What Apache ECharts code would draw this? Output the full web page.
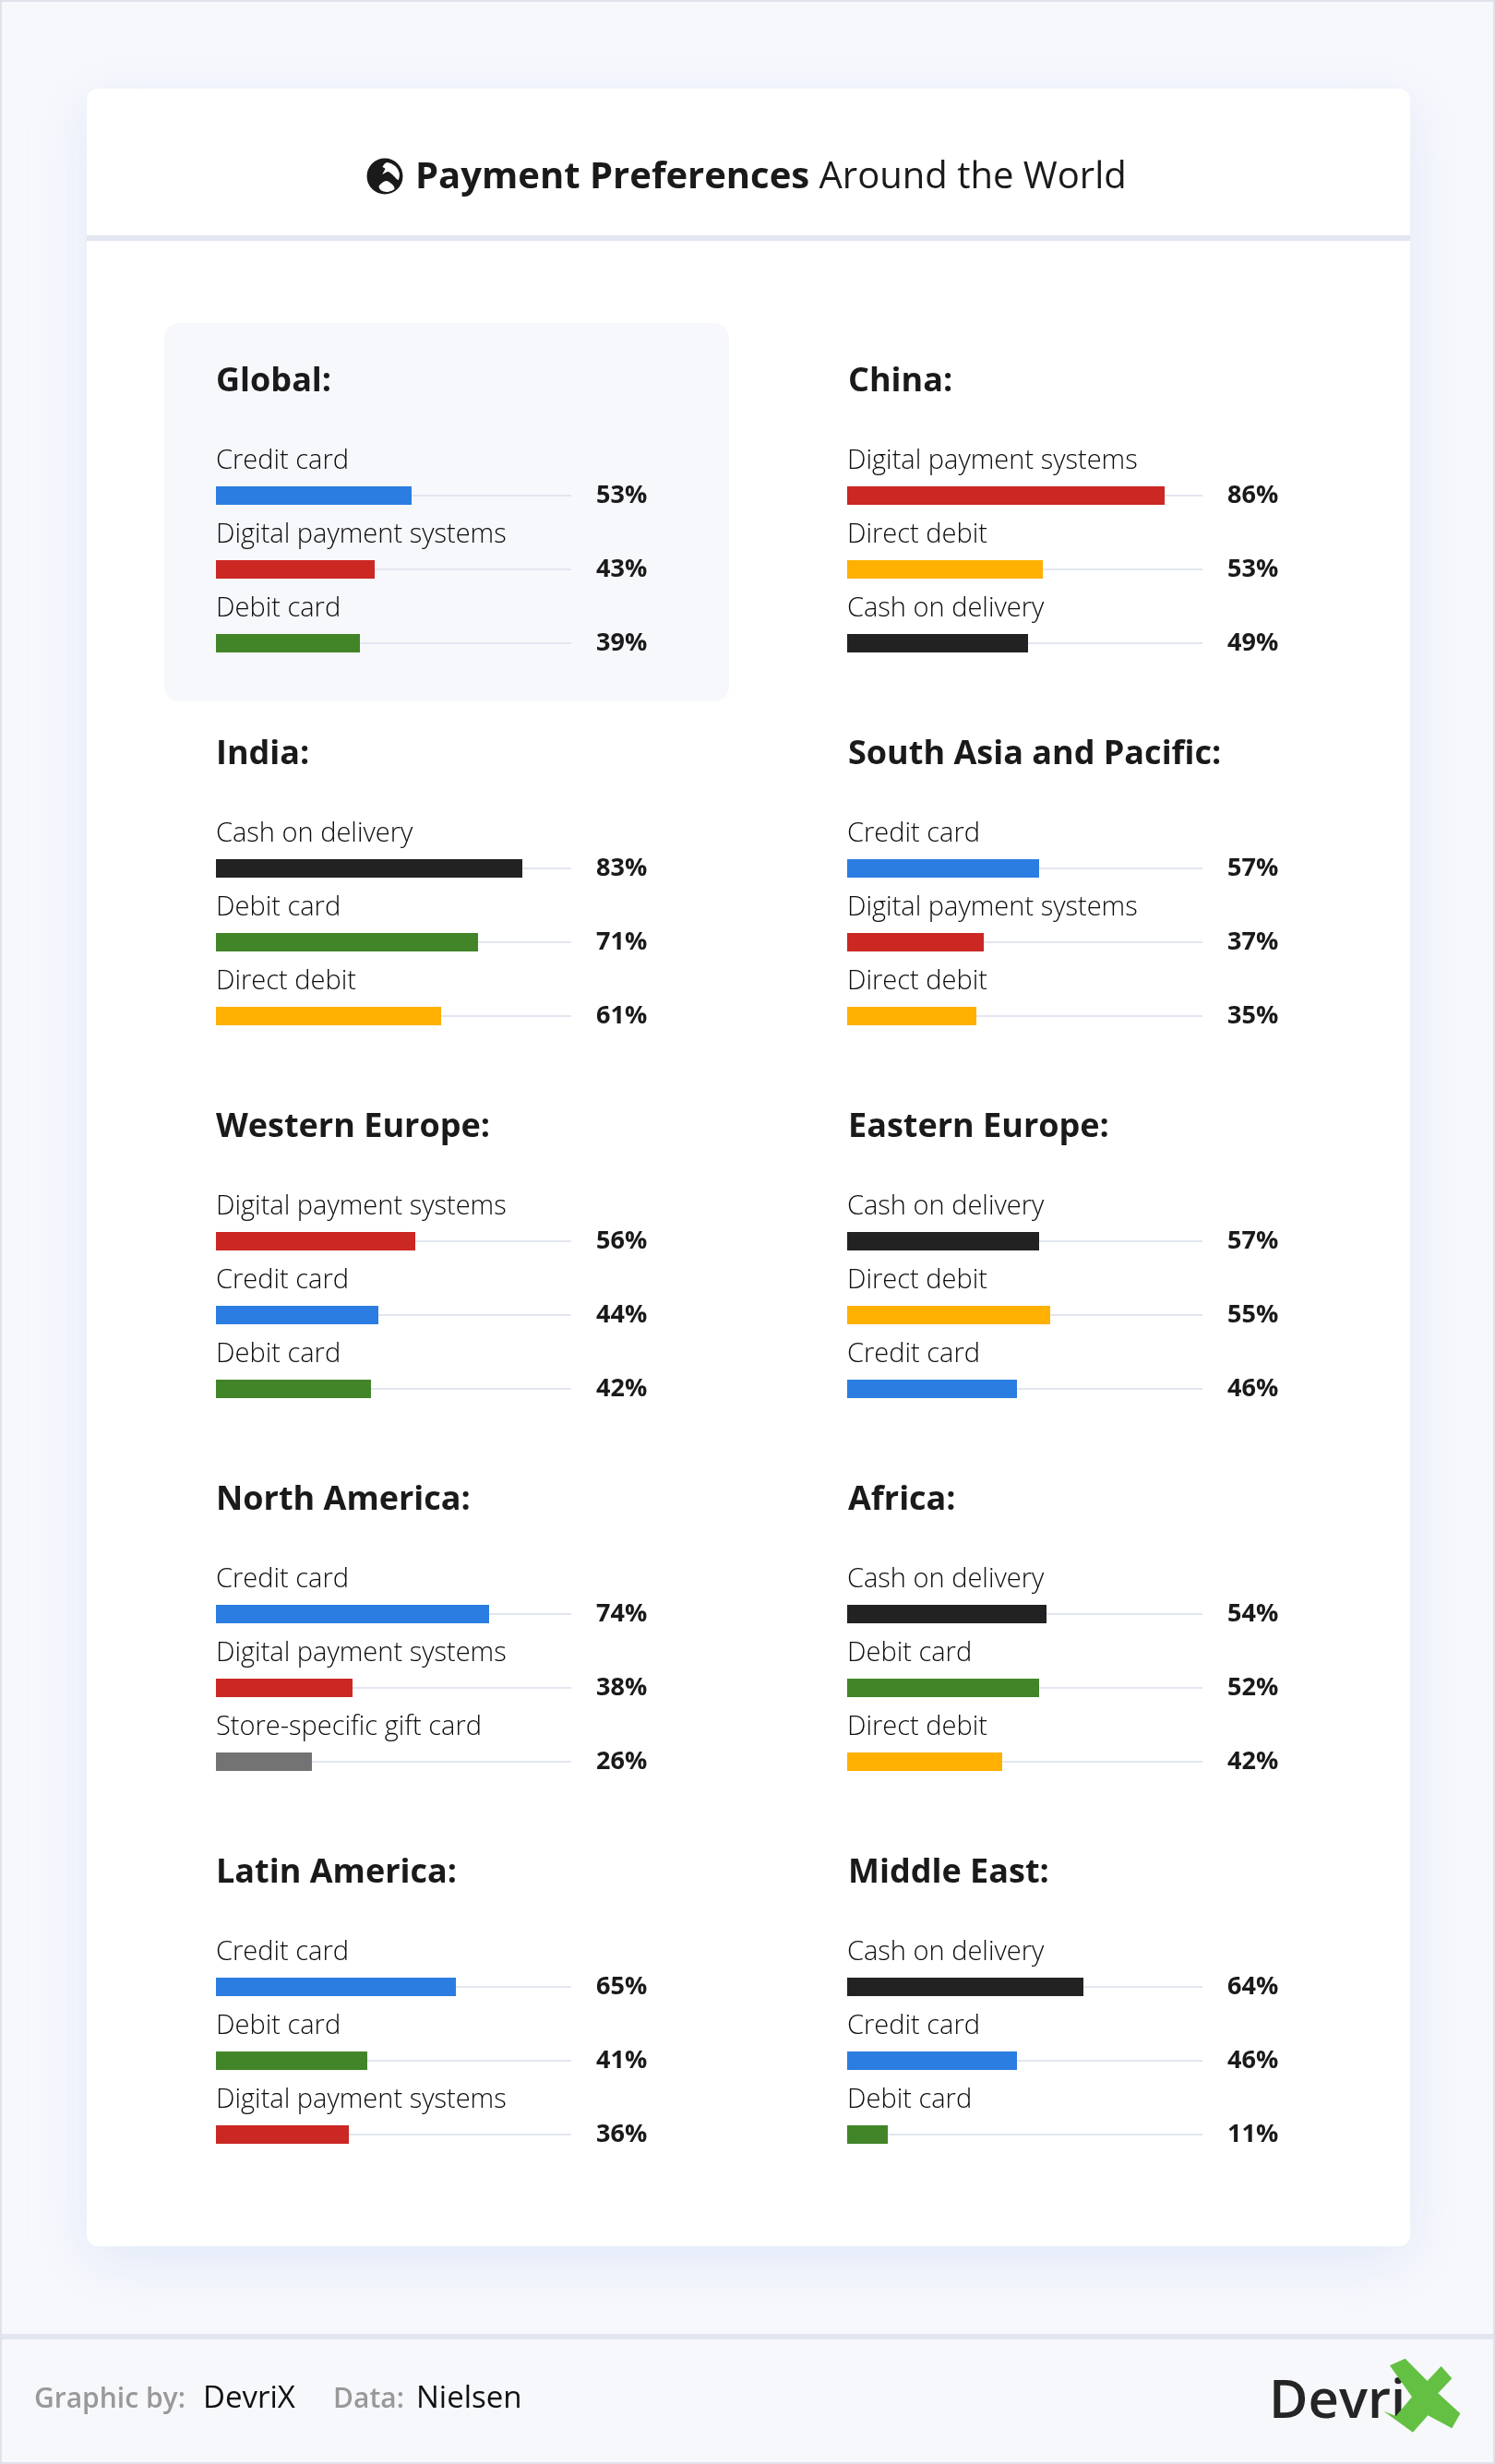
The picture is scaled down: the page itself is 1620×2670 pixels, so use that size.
<!DOCTYPE html>
<html>
<head>
<meta charset="utf-8">
<title>Payment Preferences Around the World</title>
<script src="https://cdn.jsdelivr.net/npm/echarts@6/dist/echarts.min.js"></script>
<style>
html,body{margin:0;padding:0;background:#f7f8fc;}
#main{width:1620px;height:2670px;}
</style>
</head>
<body>
<div id="main"></div>
<script>
const regions = ['Global:','China:','India:','South Asia and Pacific:','Western Europe:','Eastern Europe:','North America:','Africa:','Latin America:','Middle East:'];

const methods = [
    ['Credit card','Digital payment systems','Debit card'],
    ['Digital payment systems','Direct debit','Cash on delivery'],
    ['Cash on delivery','Debit card','Direct debit'],
    ['Credit card','Digital payment systems','Direct debit'],
    ['Digital payment systems','Credit card','Debit card'],
    ['Cash on delivery','Direct debit','Credit card'],
    ['Credit card','Digital payment systems','Store-specific gift card'],
    ['Cash on delivery','Debit card','Direct debit'],
    ['Credit card','Debit card','Digital payment systems'],
    ['Cash on delivery','Credit card','Debit card']
];

// printed percentages
const printed = [
    [53,43,39],[86,53,49],
    [83,71,61],[57,37,35],
    [56,44,42],[57,55,46],
    [74,38,26],[54,52,42],
    [65,41,36],[64,46,11]
];

// bar lengths as drawn, a few of them differ from the printed number
const drawn = [
    [53,43,39],[86,53,49],
    [83,71,61],[52,37,35],
    [54,44,42],[52,55,46],
    [74,37,26],[54,52,42],
    [65,41,36],[64,46,11]
];

const methodColors = {
    'Credit card':'#2b7de1',
    'Digital payment systems':'#cb2723',
    'Debit card':'#418528',
    'Direct debit':'#ffb000',
    'Cash on delivery':'#222222',
    'Store-specific gift card':'#737373'
};

const font = '"Open Sans"';
const dark = '#1a1a1a';
const lineColor = '#e2e6f0';
const trackMax = 96.25;   // 4px for each percent, track is 385px

let grid = [], xAxis = [], yAxis = [], series = [], title = [];

regions.forEach((name,i)=>{
    let col = i % 2;
    let row = Math.floor(i / 2);
    let left = col === 0 ? 234 : 918;
    let top = 497 + row * 404;

    grid.push({left:left,top:top,width:385,height:240});
    xAxis.push({gridIndex:i,type:'value',min:0,max:trackMax,show:false});
    yAxis.push({
        gridIndex:i,type:'category',inverse:true,data:methods[i],show:false
    });
    yAxis.push({
        gridIndex:i,type:'category',inverse:true,position:'right',
        data:printed[i].map(v=>v+'%'),
        axisLine:{show:false},axisTick:{show:false},
        axisLabel:{margin:27,padding:[6,0,0,0],color:dark,fontFamily:font,fontSize:27,fontWeight:700}
    });
    series.push({
        name:name,
        type:'bar',
        xAxisIndex:i,
        yAxisIndex:i*2,
        barWidth:20,
        z:3,
        silent:true,
        data:drawn[i].map((v,k)=>({value:v,itemStyle:{color:methodColors[methods[i][k]]}})),
        label:{
            show:true,
            position:[0,-42],
            formatter:'{b}',
            color:'#0d0d0d',
            fontFamily:font,
            fontSize:29,
            fontWeight:300
        },
        markLine:{
            silent:true,
            symbol:'none',
            z:1,
            label:{show:false},
            lineStyle:{color:lineColor,width:2,type:'solid'},
            data:methods[i].map(m=>[{xAxis:0,yAxis:m},{xAxis:trackMax,yAxis:m}])
        }
    });
    title.push({
        text:name,
        left:col === 0 ? 234 : 919,
        top:top - 101,
        padding:0,
        textStyle:{color:dark,fontFamily:font,fontSize:36,fontWeight:700}
    });
});

title.push({
    text:'{b|Payment Preferences}{l| Around the World}',
    left:450,
    top:173,
    padding:0,
    textStyle:{
        rich:{
            b:{color:dark,fontFamily:font,fontSize:40,fontWeight:700},
            l:{color:dark,fontFamily:font,fontSize:40,fontWeight:400}
        }
    }
});

// globe icon and logo mark
const globeAt = pts => pts.map(p=>[380+p[0]/3,150+p[1]/3]);
const logoAt = pts => pts.map(p=>[1340+p[0]/3,2540+p[1]/3]);

const graphic = [
    {type:'rect',z:-10,shape:{x:1,y:1,width:1618,height:2668},style:{fill:'#f7f8fc',stroke:'#dfe2ea',lineWidth:2}},
    {type:'rect',z:-9,shape:{x:94,y:96,width:1434,height:2338,r:12},
        style:{fill:'#fff',shadowBlur:60,shadowOffsetY:16,shadowColor:'rgba(190,210,245,0.4)'}},
    {type:'rect',z:-8,shape:{x:94,y:255,width:1434,height:6},style:{fill:lineColor}},
    {type:'rect',z:-8,shape:{x:178,y:350,width:612,height:410,r:16},style:{fill:'#f7f8fc'}},
    {type:'rect',z:-8,shape:{x:2,y:2529,width:1616,height:6},style:{fill:lineColor}},
    {type:'circle',z:5,shape:{cx:417,cy:191,r:19.5},style:{fill:dark}},
    {type:'polygon',z:6,shape:{smooth:0.3,points:globeAt([[118,78],[145,90],[158,112],[155,135],[140,122],[122,108],[104,116],[112,98],[104,92]])},style:{fill:'#fff'}},
    {type:'polygon',z:6,shape:{smooth:0.3,points:globeAt([[92,155],[115,138],[138,152],[142,165],[118,174],[98,168]])},style:{fill:'#fff'}},
    {type:'text',z:5,x:37,y:2600,style:{text:'Graphic by:',fill:'#999999',font:'600 30px '+font,verticalAlign:'middle'}},
    {type:'text',z:5,x:220,y:2600,style:{text:'DevriX',fill:'#111111',font:'33px '+font,verticalAlign:'middle'}},
    {type:'text',z:5,x:361,y:2600,style:{text:'Data:',fill:'#999999',font:'600 30px '+font,verticalAlign:'middle'}},
    {type:'text',z:5,x:451,y:2600,style:{text:'Nielsen',fill:'#111111',font:'33px '+font,verticalAlign:'middle'}},
    {type:'text',z:5,x:1375,y:2603,style:{text:'Devri',fill:'#252525',font:'600 58px '+font,verticalAlign:'middle'}},
    {type:'polygon',z:6,shape:{points:logoAt([[498,70],[548,47],[620,120],[665,72],[700,112],[655,160],[727,226],[700,274],[622,232],[573,287],[478,218],[518,234],[570,172]])},style:{fill:'#64c042'}}
];

let chart = echarts.init(document.getElementById('main'));
chart.setOption({
    animation:false,
    backgroundColor:'#f7f8fc',
    title:title,
    grid:grid,
    xAxis:xAxis,
    yAxis:yAxis,
    series:series,
    graphic:graphic,
    tooltip:{show:false}
});
</script>
</body>
</html>
